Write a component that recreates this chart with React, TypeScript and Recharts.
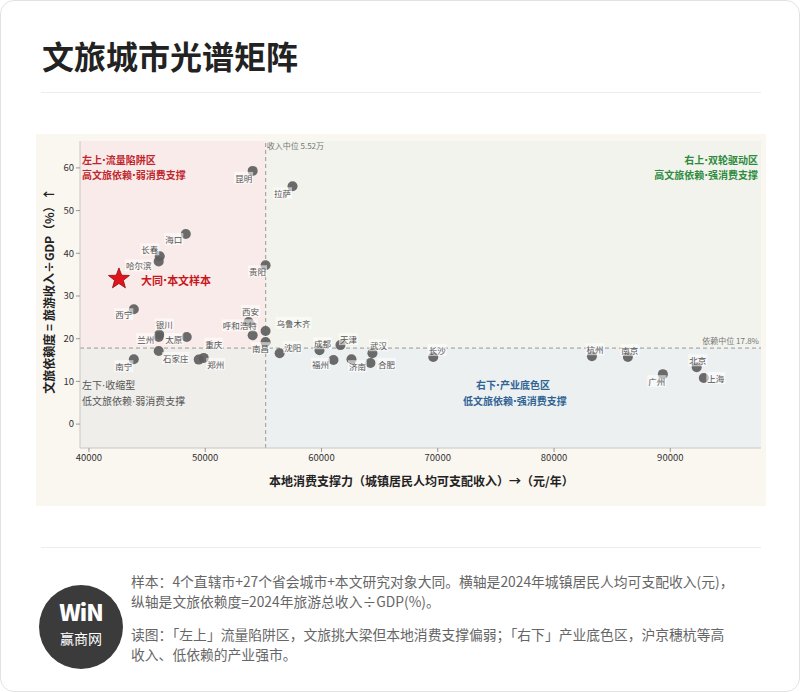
import React from "react";
import {
	ScatterChart,
	Scatter,
	XAxis,
	YAxis,
	ReferenceArea,
	ReferenceLine,
} from "recharts";

// 31 cities: income (元/年) vs tourism dependence (%)
const CITIES = [
	"昆明", "拉萨", "海口", "长春", "哈尔滨", "贵阳", "西宁", "西安",
	"呼和浩特", "乌鲁木齐", "南昌", "银川", "兰州", "太原", "石家庄", "重庆",
	"郑州", "南宁", "沈阳", "成都", "天津", "福州", "济南", "合肥",
	"武汉", "长沙", "杭州", "南京", "广州", "北京", "上海",
];
const INCOME = [
	54080, 57510, 48330, 46090, 46000, 55190, 43860, 53730,
	54080, 55190, 55190, 46050, 46000, 48410, 46000, 49440,
	49870, 43860, 56400, 59830, 61630, 61030, 62580, 64210,
	64380, 69610, 83260, 86350, 89360, 92270, 92880,
];
const DEPENDENCE = [
	59.3, 55.7, 44.5, 39.3, 38.1, 37.2, 26.9, 23.9,
	20.8, 21.8, 19.2, 21.0, 20.4, 20.4, 17.1, 15.1,
	15.5, 15.2, 16.6, 17.3, 18.5, 15.0, 15.2, 14.3,
	16.6, 15.7, 15.9, 15.7, 11.7, 13.3, 10.8,
];

const DATONG_NAME = "大同";
const DATONG_INCOME = 42580;
const DATONG_DEPENDENCE = 34.0;

const INCOME_MEDIAN = 55200;
const DEPENDENCE_MEDIAN = 17.8;

const X_TICKS = [40000, 50000, 60000, 70000, 80000, 90000];
const Y_TICKS = [0, 10, 20, 30, 40, 50, 60];
const X_DOMAIN = [39230, 97800];
const Y_DOMAIN = [-5.6, 66.3];

// label offset from dot centre (px), purely presentational
const LABEL_OFFSET: Record<string, [number, number]> = {
	昆明: [-9, 7], 拉萨: [-10, 7], 海口: [-12, 5], 长春: [-10, -7],
	哈尔滨: [-20, 4], 贵阳: [-8, 6], 西宁: [-10, 5], 西安: [2, -11],
	呼和浩特: [-13, -10], 乌鲁木齐: [28, -8], 南昌: [-5, 6], 银川: [5, -10],
	兰州: [-13, 2], 太原: [-13, 2], 石家庄: [17, 7], 重庆: [15, -16],
	郑州: [12, 6], 南宁: [-10, 7], 沈阳: [13, -6], 成都: [3, -7],
	天津: [8, -6], 福州: [-13, 4], 济南: [6, 7], 合肥: [16, 1],
	武汉: [6, -8], 长沙: [4, -7], 杭州: [3, -7], 南京: [2, -7],
	广州: [-6, 7], 北京: [1, -7], 上海: [12, 0],
};

const FONT = '"Noto Sans CJK SC", "Noto Sans", sans-serif';
const NARROW = '"DejaVu Sans", sans-serif';

const cityData = CITIES.map((name, i) => ({
	name,
	income: INCOME[i],
	dep: DEPENDENCE[i],
}));
const datongData = [{ name: DATONG_NAME, income: DATONG_INCOME, dep: DATONG_DEPENDENCE }];

// render "·" narrow like the source figure
const dotText = (s: string) => {
	const parts = s.split("·");
	return parts.map((p, i) => (
		<React.Fragment key={i}>
			{i > 0 && <span style={{ fontFamily: NARROW }}>·</span>}
			{p}
		</React.Fragment>
	));
};

const Dot = (props: any) => {
	const { cx, cy } = props;
	return <circle cx={cx} cy={cy} r={5} fill="#5e5e5e" fillOpacity={0.92} />;
};

const CityLabel = (props: any) => {
	const { cx, cy, payload } = props;
	const [dx, dy] = LABEL_OFFSET[payload.name] || [0, -8];
	const fs = 8.5;
	const w = payload.name.length * fs + 2;
	return (
		<g>
			<rect
				x={cx + dx - w / 2}
				y={cy + dy - 6}
				width={w}
				height={12}
				fill="#ffffff"
				fillOpacity={0.55}
			/>
			<text
				x={cx + dx}
				y={cy + dy}
				textAnchor="middle"
				dominantBaseline="central"
				fontSize={fs}
				fill="#555"
				fontFamily={FONT}
			>
				{payload.name}
			</text>
		</g>
	);
};

const Star = (props: any) => {
	const { cx, cy } = props;
	const outer = 11;
	const inner = 4.6;
	const pts: string[] = [];
	for (let i = 0; i < 10; i++) {
		const r = i % 2 === 0 ? outer : inner;
		const a = -Math.PI / 2 + (i * Math.PI) / 5;
		pts.push(`${cx + r * Math.cos(a)},${cy + r * Math.sin(a)}`);
	}
	return (
		<g>
			<polygon points={pts.join(" ")} fill="#e0141c" stroke="#8a0b0b" strokeWidth={0.8} />
			<text
				x={cx + 22}
				y={cy + 1}
				dominantBaseline="central"
				fontSize={11}
				fontWeight={700}
				fill="#c8161d"
				fontFamily={FONT}
			>
				大同<tspan fontFamily={NARROW}>·</tspan>本文样本
			</text>
		</g>
	);
};

const abs = (left: number, top: number, extra: React.CSSProperties = {}): React.CSSProperties => ({
	position: "absolute",
	left,
	top,
	whiteSpace: "nowrap",
	...extra,
});

export default function App() {
	return (
		<div
			style={{
				position: "relative",
				width: 800,
				height: 692,
				background: "#ffffff",
				fontFamily: FONT,
				border: "1px solid #e2e2e2",
				borderRadius: 14,
				boxSizing: "border-box",
				overflow: "hidden",
			}}
		>
			<style>{"body{margin:0}"}</style>
			<div style={abs(41, 33, { fontSize: 32, fontWeight: 700, color: "#222", lineHeight: "42px" })}>
				文旅城市光谱矩阵
			</div>
			<div style={abs(40, 91, { width: 720, height: 1, background: "#ececec" })} />

			<div style={abs(35, 133, { width: 730, height: 372, background: "#faf6f0" })}>
				<ScatterChart
					width={730}
					height={372}
					margin={{ top: 7, right: 5, bottom: 8, left: 14 }}
				>
					<XAxis
						type="number"
						dataKey="income"
						domain={X_DOMAIN}
						ticks={X_TICKS}
						allowDataOverflow
						height={50}
						tick={{ fontSize: 9.5, fill: "#333", fontFamily: FONT }}
						tickLine={{ stroke: "#999" }}
						tickSize={4}
						axisLine={{ stroke: "#c8c8c8" }}
					/>
					<YAxis
						type="number"
						dataKey="dep"
						domain={Y_DOMAIN}
						ticks={Y_TICKS}
						allowDataOverflow
						width={30}
						tick={{ fontSize: 9.5, fill: "#333", fontFamily: FONT }}
						tickLine={{ stroke: "#999" }}
						tickSize={4}
						axisLine={{ stroke: "#c8c8c8" }}
					/>
					<ReferenceArea x1={X_DOMAIN[0]} x2={INCOME_MEDIAN} y1={DEPENDENCE_MEDIAN} y2={Y_DOMAIN[1]} fill="#f9ebe9" fillOpacity={1} stroke="none" />
					<ReferenceArea x1={INCOME_MEDIAN} x2={X_DOMAIN[1]} y1={DEPENDENCE_MEDIAN} y2={Y_DOMAIN[1]} fill="#f1f3ec" fillOpacity={1} stroke="none" />
					<ReferenceArea x1={X_DOMAIN[0]} x2={INCOME_MEDIAN} y1={Y_DOMAIN[0]} y2={DEPENDENCE_MEDIAN} fill="#efeeeb" fillOpacity={1} stroke="none" />
					<ReferenceArea x1={INCOME_MEDIAN} x2={X_DOMAIN[1]} y1={Y_DOMAIN[0]} y2={DEPENDENCE_MEDIAN} fill="#edf0f1" fillOpacity={1} stroke="none" />
					<ReferenceLine
						x={INCOME_MEDIAN}
						stroke="#999"
						strokeDasharray="4 3"
						label={(p: any) => (
							<text x={p.viewBox.x + 1} y={p.viewBox.y + 8} fontSize={8} fill="#777" fontFamily={FONT}>
								收入中位 5.52万
							</text>
						)}
					/>
					<ReferenceLine
						y={DEPENDENCE_MEDIAN}
						stroke="#999"
						strokeDasharray="4 3"
						label={(p: any) => (
							<text
								x={p.viewBox.x + p.viewBox.width - 2}
								y={p.viewBox.y - 4}
								textAnchor="end"
								fontSize={8}
								fill="#777"
								fontFamily={FONT}
							>
								依赖中位 17.8%
							</text>
						)}
					/>
					<Scatter data={cityData} shape={Dot} isAnimationActive={false} />
					<Scatter data={cityData} shape={CityLabel} isAnimationActive={false} />
					<Scatter data={datongData} shape={Star} isAnimationActive={false} />
				</ScatterChart>

				<div style={abs(46, 19, { fontSize: 10, fontWeight: 700, color: "#c0262d", lineHeight: "14px" })}>
					{dotText("左上·流量陷阱区")}<br />{dotText("高文旅依赖·弱消费支撑")}
				</div>
				<div style={abs(0, 19, { left: "auto", right: 8, textAlign: "right", fontSize: 10, fontWeight: 700, color: "#2e8b3e", lineHeight: "14px" })}>
					{dotText("右上·双轮驱动区")}<br />{dotText("高文旅依赖·强消费支撑")}
				</div>
				<div style={abs(46, 243, { fontSize: 10, color: "#555", lineHeight: "15px" })}>
					{dotText("左下·收缩型")}<br />{dotText("低文旅依赖·弱消费支撑")}
				</div>
				<div style={abs(427, 243, { width: 100, textAlign: "center", fontSize: 10, fontWeight: 700, color: "#2f6394", lineHeight: "15px" })}>
					{dotText("右下·产业底色区")}<br />{dotText("低文旅依赖·强消费支撑")}
				</div>
				<div style={abs(233, 338, { fontSize: 12, fontWeight: 700, color: "#222" })}>
					本地消费支撑力（城镇居民人均可支配收入）→（元/年）
				</div>
				<div
					style={abs(12, 157, {
						fontSize: 12,
						fontWeight: 700,
						color: "#222",
						transform: "translate(-50%, -50%) rotate(-90deg)",
					})}
				>
					文旅依赖度 = 旅游收入÷GDP（%）↑
				</div>
			</div>

			<div style={abs(40, 546, { width: 720, height: 1, background: "#ececec" })} />

			<div
				style={abs(38, 584, {
					width: 84,
					height: 84,
					borderRadius: "50%",
					background: "#3b3b3b",
					color: "#fff",
					textAlign: "center",
				})}
			>
				<div style={{ fontSize: 23, fontWeight: 900, marginTop: 14, lineHeight: "24px", letterSpacing: -1 }}>WiN</div>
				<div style={{ fontSize: 14, lineHeight: "16px", marginTop: 7 }}>赢商网</div>
			</div>
			<div style={abs(130, 570, { fontSize: 13.8, color: "#666", lineHeight: "20px" })}>
				样本：4个直辖市+27个省会城市+本文研究对象大同。横轴是2024年城镇居民人均可支配收入(元)，
				<br />
				纵轴是文旅依赖度=2024年旅游总收入÷GDP(%)。
			</div>
			<div style={abs(130, 623, { fontSize: 13.8, color: "#666", lineHeight: "20px" })}>
				读图：「左上」流量陷阱区，文旅挑大梁但本地消费支撑偏弱；「右下」产业底色区，沪京穗杭等高
				<br />
				收入、低依赖的产业强市。
			</div>
		</div>
	);
}
